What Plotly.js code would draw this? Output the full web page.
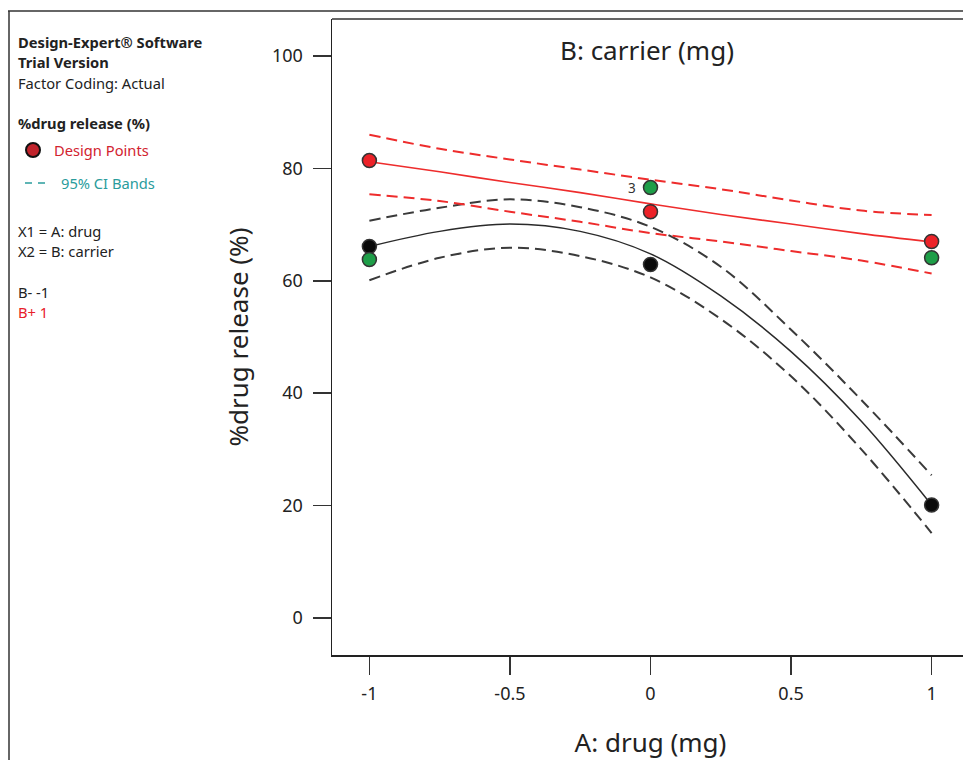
<!DOCTYPE html>
<html>
<head>
<meta charset="utf-8">
<script src="https://cdn.plot.ly/plotly-3.0.1.min.js"></script>
<style>
html,body{margin:0;padding:0;background:#fff;overflow:hidden;width:963px;height:760px;}
#chart{width:969px;height:760px;}
</style>
</head>
<body>
<div id="chart"></div>
<script>
// ---- data ----
const aGrid = [-1, -0.75, -0.5, -0.25, 0, 0.25, 0.5, 0.75, 1];
// B- (-1) fitted curve and 95% CI bands (black)
const bLowFit   = [66.1, 68.8, 70.1, 68.8, 64.8, 57.3, 47.4, 35.0, 20.1];
const bLowUpper = [70.7, 73.0, 74.5, 73.1, 69.6, 62.5, 51.3, 38.8, 25.4];
const bLowLower = [60.1, 64.1, 65.9, 64.4, 60.6, 53.2, 43.0, 30.0, 15.1];
// B+ (+1) fitted line and 95% CI bands (red)
const bHighFit   = [81.2, 79.4, 77.5, 75.7, 73.7, 71.8, 70.1, 68.4, 66.9];
const bHighUpper = [86.0, 83.5, 81.6, 79.8, 78.0, 76.3, 74.3, 72.5, 71.7];
const bHighLower = [75.4, 74.2, 72.3, 70.5, 68.5, 67.0, 65.3, 63.6, 61.3];
// design points
const ptA = [-1, 0, 1];
const ptBLow  = [66.1, 62.9, 20.1];
const ptBHigh = [81.4, 72.3, 67.0];
const ptBMid  = [63.8, 76.6, 64.1];
const xTicks = [-1, -0.5, 0, 0.5, 1];
const xTickText = ["-1", "-0.5", "0", "0.5", "1"];
const yTicks = [0, 20, 40, 60, 80, 100];

// ---- geometry helpers (pixel -> paper) ----
const W = 969, H = 760, ML = 332, MR = 0, MT = 19, MB = 105;
const PW = W - ML - MR, PH = H - MT - MB;
const px = p => (p - ML) / PW;
const py = p => (H - MB - p) / PH;

const FONT = '"Noto Sans", "Open Sans", sans-serif';
const RED = '#ee2c2c', BLK = '#2a2a2a';
const LS = 14.7;

function line(x, y, color, dash, width) {
  return {x: x, y: y, type: 'scatter', mode: 'lines', hoverinfo: 'skip',
    line: {color: color, width: width, dash: dash, shape: 'spline', smoothing: 1}};
}
function pts(x, y, color, name) {
  return {x: x, y: y, type: 'scatter', mode: 'markers', name: name,
    marker: {size: 14, color: color, line: {color: '#333', width: 1.5}}};
}

const traces = [
  line(aGrid, bLowUpper, '#3a3a3a', '11px,6px', 2),
  line(aGrid, bLowLower, '#3a3a3a', '11px,6px', 2),
  line(aGrid, bLowFit, BLK, 'solid', 1.5),
  line(aGrid, bHighUpper, RED, '11px,6px', 2),
  line(aGrid, bHighLower, RED, '11px,6px', 2),
  line(aGrid, bHighFit, RED, 'solid', 1.6),
  pts(ptA, ptBLow, '#0a0a0a', 'B- design points'),
  pts(ptA, ptBMid, '#1e9e48', 'B0 design points'),
  pts(ptA, ptBHigh, '#ec2228', 'B+ design points')
];

function txt(text, xp, yp, color) {
  return {text: text, xref: 'paper', yref: 'paper', x: px(xp), y: py(yp),
    xanchor: 'left', yanchor: 'middle', showarrow: false,
    font: {family: FONT, size: LS, color: color || '#222'}};
}

const annotations = [
  txt('<b>Design-Expert® Software</b>', 16, 42),
  txt('<b>Trial Version</b>', 16, 62),
  txt('Factor Coding: Actual', 16, 83),
  txt('<b>%drug release (%)</b>', 16, 123),
  txt('Design Points', 52, 150, '#d2232f'),
  txt('95% CI Bands', 59, 183, '#2a9c9c'),
  txt('X1 = A: drug', 16, 231),
  txt('X2 = B: carrier', 16, 251),
  txt('B- -1', 16, 292),
  txt('B+ 1', 16, 312, '#e8202a'),
  {text: '3', x: 0, y: ptBMid[1], xref: 'x', yref: 'y', showarrow: false,
   xshift: -19, font: {family: FONT, size: 13.5, color: '#333'}}
];

const shapes = [
  // outer frame
  {type: 'line', xref: 'paper', yref: 'paper', x0: px(8), x1: px(975), y0: py(11), y1: py(11),
   line: {color: '#333', width: 1.5}},
  {type: 'line', xref: 'paper', yref: 'paper', x0: px(9), x1: px(9), y0: py(11), y1: py(770),
   line: {color: '#333', width: 1.5}},
  // plot top frame
  {type: 'line', xref: 'paper', yref: 'paper', x0: 0, x1: 1.02, y0: 1, y1: 1,
   line: {color: '#666', width: 2}},
  // legend marker
  {type: 'circle', xref: 'paper', yref: 'paper', x0: px(26), x1: px(40), y0: py(143), y1: py(157),
   fillcolor: '#c0232b', line: {color: '#111', width: 2}},
  // legend dashes
  {type: 'line', xref: 'paper', yref: 'paper', x0: px(25), x1: px(32), y0: py(183), y1: py(183),
   line: {color: '#2a9c9c', width: 1.5}},
  {type: 'line', xref: 'paper', yref: 'paper', x0: px(38), x1: px(45), y0: py(183), y1: py(183),
   line: {color: '#2a9c9c', width: 1.5}}
];

const layout = {
  width: W, height: H,
  margin: {l: ML, r: MR, t: MT, b: MB, pad: 0},
  paper_bgcolor: '#fff', plot_bgcolor: '#fff',
  showlegend: false,
  title: {text: 'B: carrier (mg)', xref: 'container', x: 647 / W, y: 1 - 51 / H,
          xanchor: 'center', yanchor: 'middle',
          font: {family: FONT, size: 26, color: '#222'}},
  xaxis: {
    range: [-1.133, 1.133], tickvals: xTicks, ticktext: xTickText,
    showgrid: false, zeroline: false, showline: true, linecolor: '#222', linewidth: 1.5,
    ticks: 'outside', ticklen: 18, tickwidth: 1.5, tickcolor: '#333',
    ticklabelstandoff: 4,
    tickfont: {family: FONT, size: 18, color: '#222'},
    title: {text: 'A: drug (mg)', standoff: 30, font: {family: FONT, size: 26, color: '#222'}}
  },
  yaxis: {
    range: [-6.6, 106.6], tickvals: yTicks,
    showgrid: false, zeroline: false, showline: true, linecolor: '#222', linewidth: 1.5,
    ticks: 'outside', ticklen: 18, tickwidth: 1.5, tickcolor: '#333',
    ticklabelstandoff: 6,
    tickfont: {family: FONT, size: 18, color: '#222'},
    title: {text: '%drug release (%)', standoff: 16, font: {family: FONT, size: 26, color: '#222'}}
  },
  annotations: annotations,
  shapes: shapes
};

Plotly.newPlot('chart', traces, layout, {displayModeBar: false, staticPlot: true});
</script>
</body>
</html>
